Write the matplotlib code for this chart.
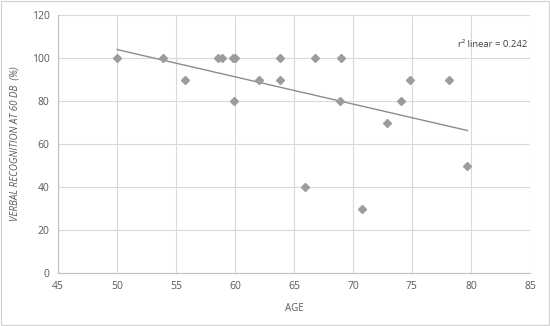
import numpy as np
import matplotlib
matplotlib.use("Agg")
import matplotlib.pyplot as plt
from matplotlib.patches import Rectangle

age = [50.0, 53.9, 55.8, 58.6, 58.9, 59.8, 60.0, 59.9, 62.0, 63.8, 63.8,
       65.9, 66.8, 69.0, 68.9, 70.8, 72.9, 74.1, 74.8, 78.1, 79.7]
recognition = [100, 100, 90, 100, 100, 100, 100, 80, 90, 100, 90,
               40, 100, 100, 80, 30, 70, 80, 90, 90, 50]
x_ticks = [45, 50, 55, 60, 65, 70, 75, 80, 85]
y_ticks = [0, 20, 40, 60, 80, 100, 120]
r2_label = "r² linear = 0.242"

plt.rcParams['font.family'] = ['Open Sans', 'DejaVu Sans']
fig = plt.figure(figsize=(5.5, 3.26), dpi=100)
ax = fig.add_axes([58/550, 1-273/326, (530-58)/550, (273-15)/326])

grid_c = '#d9d9d9'
ax.set_xlim(45, 85)
ax.set_ylim(0, 120)
ax.set_xticks(x_ticks)
ax.set_yticks(y_ticks)
ax.grid(True, color=grid_c, linewidth=0.8)
ax.set_axisbelow(True)
for s in ['top', 'right']:
    ax.spines[s].set_visible(False)
for s in ['left', 'bottom']:
    ax.spines[s].set_color('#bfbfbf')
    ax.spines[s].set_linewidth(0.8)
ax.tick_params(length=0, labelsize=7.5, colors='#595959', pad=6)

ax.plot(age, recognition, linestyle='none', marker='D', markersize=4.5,
        color='#9c9c9c', zorder=3)

x = np.array(age)
y = np.array(recognition)
m, b = np.polyfit(x, y, 1)
xs = np.array([x.min(), x.max()])
ax.plot(xs, m*xs + b, color='#8c8c8c', linewidth=1.0, zorder=2)

ax.text(0.995, 0.885, r2_label, transform=ax.transAxes, ha='right', va='center',
        fontsize=6.8, color='#404040')

ax.set_xlabel('AGE', fontsize=7, color='#595959', labelpad=8)
ax.set_ylabel('VERBAL RECOGNITION AT 60 DB  (%)', fontsize=7, color='#595959',
              style='italic', labelpad=8)

fig.patches.append(Rectangle((1/550, 1/326), 548/550, 324/326, transform=fig.transFigure,
                             fill=False, edgecolor='#d0d0d0', linewidth=0.8))

fig.savefig('out.png', dpi=100)
